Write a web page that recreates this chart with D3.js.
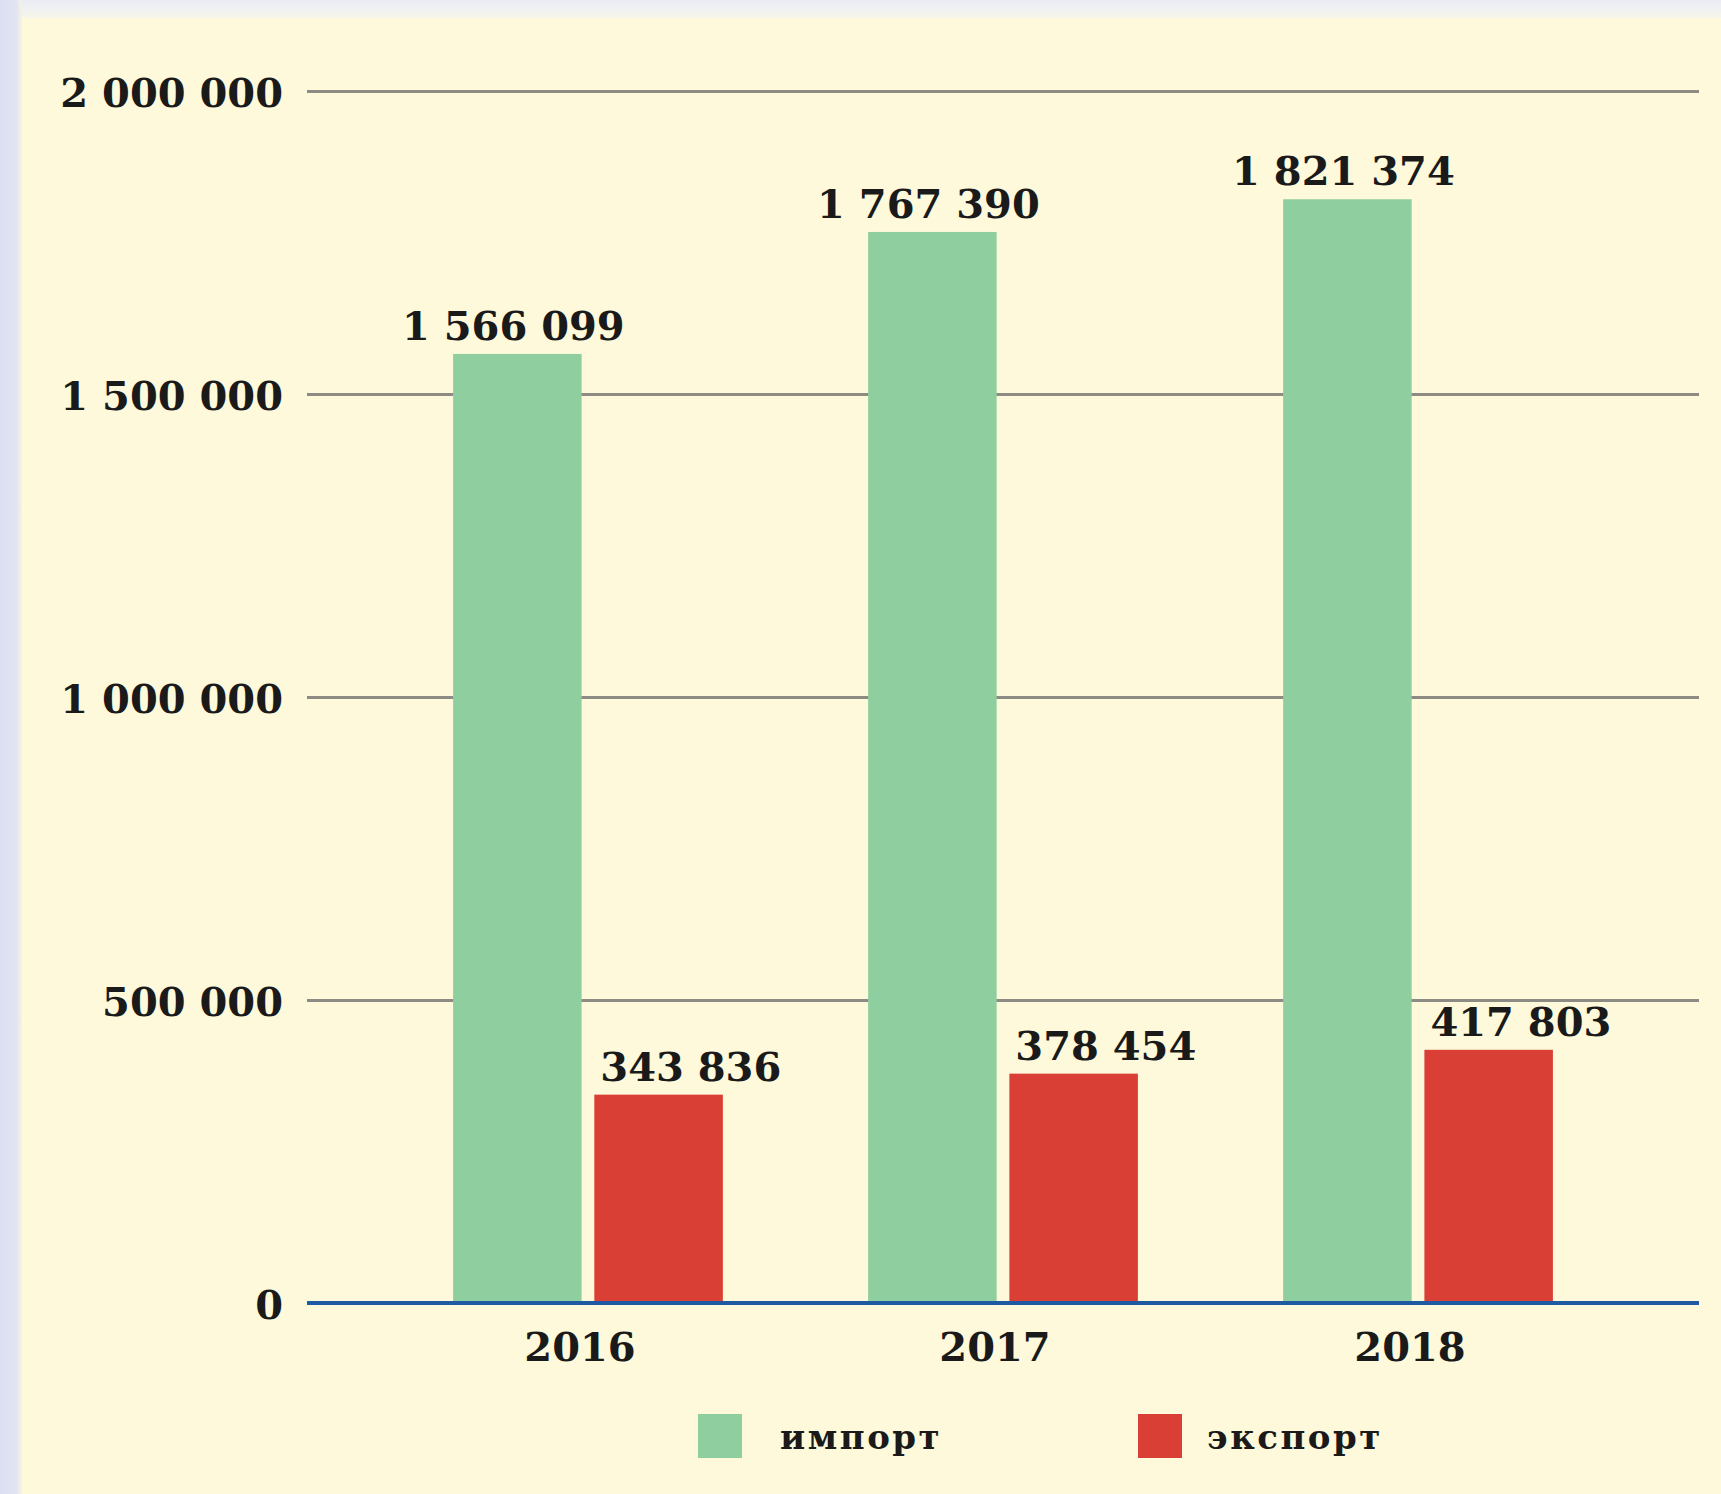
<!DOCTYPE html>
<html>
<head>
<meta charset="utf-8">
<script src="https://cdn.jsdelivr.net/npm/d3@7/dist/d3.min.js"></script>
<style>
  html, body { margin: 0; padding: 0; background: #fdf9da; }
  svg { display: block; }
</style>
</head>
<body>
<svg id="chart" width="1721" height="1494"></svg>
<script>
// Foreign trade volumes by year
const years = ["2016", "2017", "2018"];
const seriesKeys = ["import", "export"];
const seriesNames = ["импорт", "экспорт"];
const importValues = [1566099, 1767390, 1821374];
const exportValues = [343836, 378454, 417803];
const yTicks = [0, 500000, 1000000, 1500000, 2000000];

const W = 1721, H = 1494;
const plot = { left: 307, right: 1699, top: 91, bottom: 1303 };
const colors = { import: "#8fcf9f", export: "#da3f36" };
const serif = "'DejaVu Serif', 'Liberation Serif', serif";

const rows = years.map((y, i) => ({ year: y, import: importValues[i], export: exportValues[i] }));

const svg = d3.select("#chart");

// page background: lavender strip on the left, pale strip on top, cream panel
const defs = svg.append("defs");
const topGrad = defs.append("linearGradient").attr("id", "topStrip").attr("x1", 0).attr("y1", 0).attr("x2", 0).attr("y2", 1);
topGrad.append("stop").attr("offset", "0%").attr("stop-color", "#e9ecf6");
topGrad.append("stop").attr("offset", "100%").attr("stop-color", "#f7f6ea");
const leftGrad = defs.append("linearGradient").attr("id", "leftStrip").attr("x1", 0).attr("y1", 0).attr("x2", 1).attr("y2", 0);
leftGrad.append("stop").attr("offset", "0%").attr("stop-color", "#dcdff3");
leftGrad.append("stop").attr("offset", "75%").attr("stop-color", "#e2e4f1");
leftGrad.append("stop").attr("offset", "100%").attr("stop-color", "#f6f4e2");

svg.append("rect").attr("width", W).attr("height", H).attr("fill", "#fdf9da");
svg.append("rect").attr("x", 0).attr("y", 0).attr("width", W).attr("height", 18).attr("fill", "url(#topStrip)");
svg.append("rect").attr("x", 0).attr("y", 0).attr("width", 22).attr("height", H).attr("fill", "url(#leftStrip)");

// scales
const y = d3.scaleLinear().domain([0, 2000000]).range([plot.bottom, plot.top]);
const x0 = d3.scaleBand().domain(years).range([plot.left, plot.right]).paddingInner(0.35).paddingOuter(0.352);
const x1 = d3.scaleBand().domain(seriesKeys).range([0, x0.bandwidth()]).paddingInner(0.09).paddingOuter(0);

const fmt = v => d3.format(",")(v).replace(/,/g, " ");

// horizontal gridlines and y labels
const yAxis = d3.axisLeft(y).tickValues(yTicks).tickSize(-(plot.right - plot.left)).tickPadding(24).tickFormat(fmt);
const gy = svg.append("g").attr("transform", `translate(${plot.left},0)`).call(yAxis);
gy.select(".domain").remove();
gy.selectAll(".tick line").attr("stroke", "#8c8b84").attr("stroke-width", 3);
gy.selectAll(".tick").filter(d => d === 0).select("line").remove();
gy.selectAll(".tick text")
  .attr("font-family", serif).attr("font-weight", "bold").attr("font-size", 40)
  .attr("fill", "#1a1a1a").attr("dy", "0.38em");

// bars
const groups = svg.append("g").selectAll("g").data(rows).join("g")
  .attr("transform", d => `translate(${x0(d.year)},0)`);

groups.selectAll("rect").data(d => seriesKeys.map(k => ({ key: k, value: d[k] }))).join("rect")
  .attr("x", d => x1(d.key))
  .attr("y", d => y(d.value))
  .attr("width", x1.bandwidth())
  .attr("height", d => y(0) - y(d.value))
  .attr("fill", d => colors[d.key]);

// value labels: centred over import bars, left-aligned over export bars
groups.selectAll("text.value").data(d => seriesKeys.map(k => ({ key: k, value: d[k] }))).join("text")
  .attr("class", "value")
  .attr("x", d => d.key === "import" ? x1(d.key) + x1.bandwidth() / 2 - 4 : x1(d.key) + 6)
  .attr("y", d => y(d.value) - 14)
  .attr("text-anchor", d => d.key === "import" ? "middle" : "start")
  .attr("font-family", serif).attr("font-weight", "bold").attr("font-size", 40)
  .attr("fill", "#1a1a1a")
  .text(d => fmt(d.value));

// baseline axis with year labels
const xAxis = d3.axisBottom(x0).tickSize(0).tickPadding(30);
const gx = svg.append("g").attr("transform", `translate(0,${plot.bottom})`).call(xAxis);
gx.select(".domain").remove();
gx.append("line").attr("x1", plot.left).attr("x2", plot.right).attr("y1", 0).attr("y2", 0)
  .attr("stroke", "#1d5aa3").attr("stroke-width", 4);
gx.selectAll(".tick text")
  .attr("font-family", serif).attr("font-weight", "bold").attr("font-size", 40)
  .attr("fill", "#1a1a1a").attr("dy", "0.71em")
  .attr("dx", -8);

// legend
const legendX = [698, 1138];
const legendTextX = [82, 69];
const legend = svg.append("g").selectAll("g").data(seriesKeys).join("g")
  .attr("transform", (d, i) => `translate(${legendX[i]},1414)`);
legend.append("rect").attr("width", 44).attr("height", 44).attr("fill", d => colors[d]);
legend.append("text")
  .attr("x", (d, i) => legendTextX[i]).attr("y", 35)
  .attr("font-family", serif).attr("font-weight", "bold").attr("font-size", 34).attr("letter-spacing", 2.5)
  .attr("fill", "#1a1a1a")
  .text((d, i) => seriesNames[i]);
</script>
</body>
</html>
